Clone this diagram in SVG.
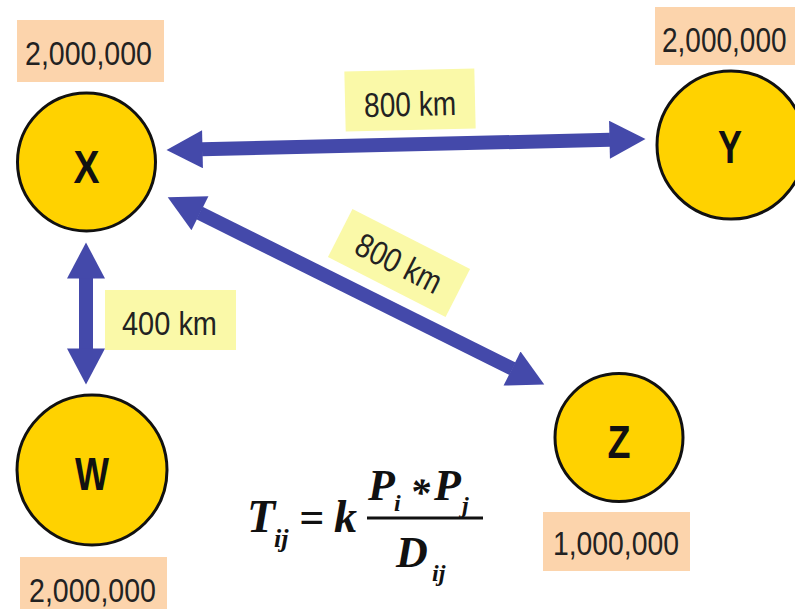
<svg xmlns="http://www.w3.org/2000/svg" width="795" height="609" viewBox="0 0 795 609">
<style>
.node{fill:#FFD200;stroke:#111;stroke-width:3}
.pop{fill:#FCD4AC}
.dist{fill:#FAF9A8}
.lbl{font-family:"Liberation Sans",Arial,sans-serif;font-size:34px;fill:#222}
.letter{font-family:"Liberation Sans",Arial,sans-serif;font-size:46px;font-weight:bold;fill:#111;text-anchor:middle}
.arrow{stroke:#4449AA;stroke-width:14;fill:none}
.f{font-family:"Liberation Serif","Times New Roman",serif;font-weight:bold;font-style:italic;fill:#111}
</style>
<defs>
<marker id="head" markerUnits="userSpaceOnUse" markerWidth="38" markerHeight="38" viewBox="0 0 36 38" refX="0.5" refY="19" orient="auto-start-reverse">
<path d="M0,0 L36,19 L0,38 Z" fill="#4449AA"/>
</marker>
</defs>
<rect width="795" height="609" fill="#fff"/>
<g id="connectors">
<line class="arrow" x1="202" y1="149.2" x2="610" y2="139.8" marker-start="url(#head)" marker-end="url(#head)"/>
<line class="arrow" x1="199.5" y1="213" x2="512.5" y2="368.8" marker-start="url(#head)" marker-end="url(#head)"/>
<line class="arrow" x1="86" y1="278" x2="86" y2="349" marker-start="url(#head)" marker-end="url(#head)"/>
<g id="label-xy" transform="translate(410,100) rotate(-1.3)">
<rect class="dist" x="-65" y="-30" width="130" height="60"/>
<text class="lbl" x="-46" y="16" textLength="92" lengthAdjust="spacingAndGlyphs">800 km</text>
</g>
<g id="label-xz" transform="translate(399,263) rotate(27)">
<rect class="dist" x="-66" y="-27" width="132" height="54"/>
<text class="lbl" x="-46" y="12" textLength="92" lengthAdjust="spacingAndGlyphs">800 km</text>
</g>
<g id="label-xw">
<rect class="dist" x="105" y="290" width="131" height="60"/>
<text class="lbl" x="122" y="335" textLength="95" lengthAdjust="spacingAndGlyphs">400 km</text>
</g>
</g>
<g id="node-x">
<rect class="pop" x="17" y="20" width="147" height="62"/>
<text class="lbl" x="25" y="65" textLength="127" lengthAdjust="spacingAndGlyphs">2,000,000</text>
<circle class="node" cx="86.5" cy="162" r="69"/>
<text class="letter" x="86.5" y="183" textLength="26" lengthAdjust="spacingAndGlyphs">X</text>
</g>
<g id="node-y">
<rect class="pop" x="655" y="7" width="140" height="58"/>
<text class="lbl" transform="translate(662,52) scale(1,1.22)" x="0" y="0" font-size="28" style="font-size:28px">2,000,000</text>
<circle class="node" cx="731" cy="145" r="74"/>
<text class="letter" x="730" y="163" textLength="24" lengthAdjust="spacingAndGlyphs">Y</text>
</g>
<g id="node-w">
<circle class="node" cx="92" cy="470" r="75"/>
<text class="letter" x="92" y="490" textLength="34" lengthAdjust="spacingAndGlyphs">W</text>
<rect class="pop" x="20" y="557" width="147" height="52"/>
<text class="lbl" x="29" y="602" textLength="127" lengthAdjust="spacingAndGlyphs">2,000,000</text>
</g>
<g id="node-z">
<circle class="node" cx="619" cy="437.5" r="64"/>
<text class="letter" x="619" y="458" textLength="23" lengthAdjust="spacingAndGlyphs">Z</text>
<rect class="pop" x="543" y="512" width="147" height="59"/>
<text class="lbl" x="553" y="555" textLength="126" lengthAdjust="spacingAndGlyphs">1,000,000</text>
</g>
<g id="formula">
<text class="f" x="247" y="532" font-size="46">T</text>
<text class="f" x="274" y="547" font-size="26">ij</text>
<text class="f" x="299" y="532" font-size="44" font-style="normal">=</text>
<text class="f" x="334" y="532" font-size="46">k</text>
<rect x="367" y="516.5" width="116" height="3" fill="#111"/>
<text class="f" x="368" y="500" font-size="44">P</text>
<text class="f" x="394" y="511" font-size="24">i</text>
<text class="f" x="410" y="506" font-size="40" font-style="normal">*</text>
<text class="f" x="434" y="500" font-size="44">P</text>
<text class="f" x="462" y="513" font-size="24">j</text>
<text class="f" x="396" y="567" font-size="44">D</text>
<text class="f" x="432" y="581" font-size="24">ij</text>
</g>
</svg>
